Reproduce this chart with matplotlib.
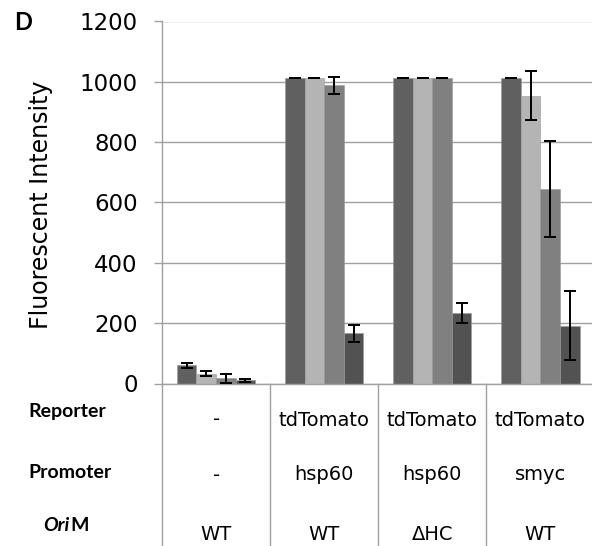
import matplotlib
matplotlib.use("Agg")
import matplotlib.pyplot as plt
import numpy as np

groups = ["G1", "G2", "G3", "G4"]
series_colors = ["#606060", "#b4b4b4", "#808080", "#525252"]
values = [
    [60, 33, 17, 11],
    [1014, 1014, 989, 166],
    [1014, 1014, 1014, 234],
    [1014, 954, 644, 192],
]
errors = [
    [9, 9, 14, 5],
    [0, 0, 28, 28],
    [0, 0, 0, 33],
    [0, 82, 159, 114],
]
reporter = ["-", "tdTomato", "tdTomato", "tdTomato"]
promoter = ["-", "hsp60", "hsp60", "smyc"]
orim = ["WT", "WT", "\u0394HC", "WT"]
yticks = [0, 200, 400, 600, 800, 1000, 1200]

fig = plt.figure(figsize=(5.92, 5.46), dpi=100)
ax = fig.add_axes([162/592, 1-383.5/546, 432.5/592, (383.5-21.5)/546])

grid_c = "#a0a0a0"
ax.set_ylim(0, 1200)
ax.set_xlim(-0.5, len(groups)-0.5)
ax.set_yticks(yticks)
ax.yaxis.grid(True, color=grid_c, linewidth=1.0)
ax.set_axisbelow(True)
for s in ["top", "right"]:
    ax.spines[s].set_visible(False)
ax.spines["left"].set_color(grid_c)
ax.spines["bottom"].set_color(grid_c)
ax.spines["left"].set_linewidth(1.0)
ax.spines["bottom"].set_linewidth(1.0)
ax.tick_params(axis="y", length=6, color=grid_c, width=1.0, labelsize=16.5, pad=11.5)
ax.set_xticks([])

vals = np.array(values)
errs = np.array(errors)
bw = 0.181
n = vals.shape[1]
x = np.arange(len(groups))
for j in range(n):
    xp = x + (j - (n-1)/2) * bw
    ax.bar(xp, vals[:, j], width=bw, color=series_colors[j], edgecolor="#9a9a9a", linewidth=0.4, zorder=2)
    ax.errorbar(xp, vals[:, j], yerr=errs[:, j], fmt="none", ecolor="black",
                elinewidth=1.4, capsize=4.3, capthick=1.4, zorder=3)

fig.text(41/592, 1-205/546, "Fluorescent Intensity", fontsize=17, rotation=90,
         ha="center", va="center")

fig.text(14/592, 1-22/546, "D", fontsize=17, fontweight="bold", family="Lato", va="center", ha="left")

# table lines
trans = ax.get_xaxis_transform()
for b in np.arange(len(groups)) - 0.5:
    ax.plot([b, b], [0, -0.5], transform=trans, color=grid_c, linewidth=1.0, clip_on=False)

def ycoord(py):
    return (383.5 - py) / (383.5 - 21.5)

rows = [(reporter, 420, 412, "Reporter"), (promoter, 475, 472.5, "Promoter")]
for vals_row, py, lpy, lab in rows:
    for i, t in enumerate(vals_row):
        ax.text(i, ycoord(py), t, transform=trans, ha="center", va="center", fontsize=14)
    fig.text(28/592, 1-lpy/546, lab, fontsize=14, fontweight="bold", family="Lato", ha="left", va="center")
for i, t in enumerate(orim):
    ax.text(i, ycoord(534), t, transform=trans, ha="center", va="center", fontsize=14)
t1 = fig.text(43/592, 1-525.5/546, "Ori", fontsize=14, fontweight="bold", fontstyle="italic", family="Lato", ha="left", va="center")
ax.annotate("M", xy=(1, 0.5), xycoords=t1, xytext=(1, 0), textcoords="offset points",
            fontsize=14, fontweight="bold", family="Lato", ha="left", va="center")

fig.savefig("out.png", dpi=100)
